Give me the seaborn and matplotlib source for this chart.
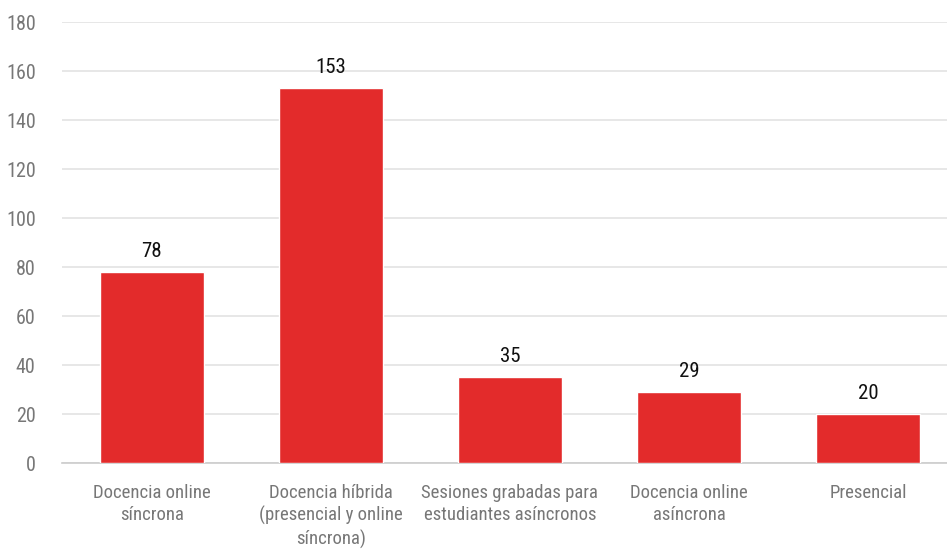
import matplotlib
matplotlib.use("Agg")
import matplotlib.pyplot as plt
import seaborn as sns
import pandas as pd

categories = ["Docencia online\nsíncrona",
              "Docencia híbrida\n(presencial y online\nsíncrona)",
              "Sesiones grabadas para\nestudiantes asíncronos",
              "Docencia online\nasíncrona",
              "Presencial"]
values = [78, 153, 35, 29, 20]
yticks = [0, 20, 40, 60, 80, 100, 120, 140, 160, 180]

sns.set_theme(style="white")
plt.rcParams['font.family'] = ['Roboto Condensed', 'DejaVu Sans']

df = pd.DataFrame({"cat": categories, "val": values})
fig = plt.figure(figsize=(9.47, 5.5), dpi=100)
ax = fig.add_axes([0.0655, 0.158, 0.9345, 0.802])
sns.barplot(data=df, x="cat", y="val", color="#E32B2B", saturation=1, width=0.58, ax=ax, zorder=3)
ax.set_ylim(0, 180)
ax.set_xlim(-0.5, 4.44)
ax.set_yticks(yticks)
ax.yaxis.grid(True, color="#e3e3e3", linewidth=1.2, zorder=0)
for s in ["top", "right", "left"]:
    ax.spines[s].set_visible(False)
ax.spines["bottom"].set_color("#cccccc")
ax.spines["bottom"].set_linewidth(1.2)
ax.tick_params(axis="y", labelsize=14.5, colors="#777777", length=0, pad=19)
ax.tick_params(axis="x", labelsize=13.5, colors="#777777", length=0, pad=15)
for lab in ax.get_xticklabels():
    lab.set_linespacing(1.28)
ax.set_xlabel("")
ax.set_ylabel("")
for c in ax.containers:
    ax.bar_label(c, labels=[str(v) for v in values], padding=8, fontsize=15, color="#111111")
fig.savefig("out.png", dpi=100)
